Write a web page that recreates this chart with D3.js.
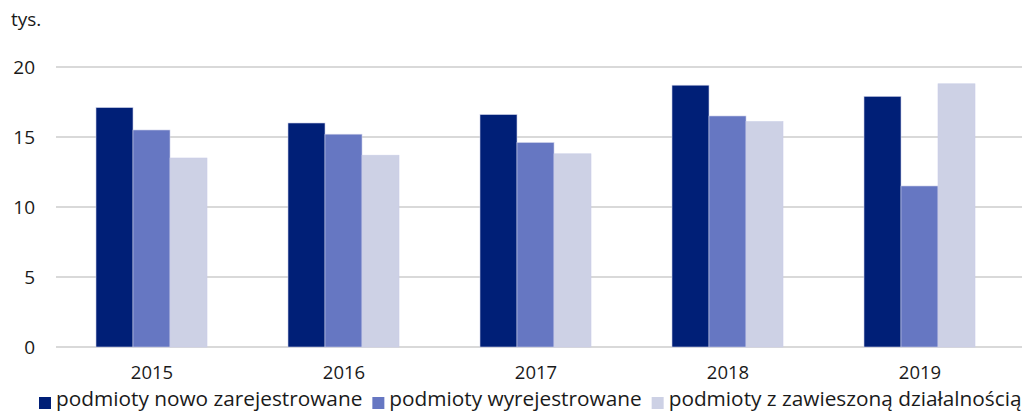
<!DOCTYPE html>
<html>
<head>
<meta charset="utf-8">
<script src="https://cdn.jsdelivr.net/npm/d3@7"></script>
<style>
  body { margin: 0; background: #fff; }
  svg text { font-family: "Open Sans", "DejaVu Sans", sans-serif; fill: #1a1a1a; }
</style>
</head>
<body>
<svg id="chart" width="1022" height="412"></svg>
<script>
// Data
var years = ["2015", "2016", "2017", "2018", "2019"];
var seriesNames = ["podmioty nowo zarejestrowane", "podmioty wyrejestrowane", "podmioty z zawieszoną działalnością"];
var nowo = [17.1, 16.0, 16.6, 18.7, 17.9];
var wyrej = [15.5, 15.2, 14.6, 16.5, 11.5];
var zawiesz = [13.5, 13.7, 13.8, 16.1, 18.8];
var colors = ["#001f77", "#6677c2", "#cdd1e5"];
var yTicks = [0, 5, 10, 15, 20];

var series = [nowo, wyrej, zawiesz];

const svg = d3.select("#chart");
const margin = { top: 67, left: 56, right: 6, bottom: 65 };
const width = 1022 - margin.left - margin.right;
const height = 412 - margin.top - margin.bottom;

const x = d3.scaleBand().domain(years).range([0, width]).paddingInner(0).paddingOuter(0);
const xInner = d3.scaleBand().domain(d3.range(series.length)).range([x.bandwidth() / 2 - 56, x.bandwidth() / 2 + 55]);
const y = d3.scaleLinear().domain([0, 20]).range([height, 0]);

const g = svg.append("g").attr("transform", `translate(${margin.left},${margin.top})`);

// gridlines
g.selectAll("line.grid")
  .data(yTicks)
  .enter()
  .append("line")
  .attr("x1", 0)
  .attr("x2", 1022 - margin.left)
  .attr("y1", d => y(d))
  .attr("y2", d => y(d))
  .attr("stroke", "#d9d9d9")
  .attr("stroke-width", 2);

// y labels
g.selectAll("text.ytick")
  .data(yTicks)
  .enter()
  .append("text")
  .attr("x", -21)
  .attr("y", d => y(d) + 7)
  .attr("text-anchor", "end")
  .style("font-size", "19px")
  .text(d => d);

svg.append("text")
  .attr("x", 11)
  .attr("y", 26)
  .style("font-size", "19px")
  .text("tys.");

// bars
series.forEach(function(values, si) {
  g.selectAll("rect.s" + si)
    .data(values)
    .enter()
    .append("rect")
    .attr("x", (d, i) => x(years[i]) + xInner(si))
    .attr("width", xInner.bandwidth())
    .attr("y", d => y(d))
    .attr("height", d => y(0) - y(d))
    .attr("fill", colors[si])
    .attr("stroke", "#c9cde6")
    .attr("stroke-width", 0.6);
});

// x labels
g.selectAll("text.xtick")
  .data(years)
  .enter()
  .append("text")
  .attr("x", d => x(d) + x.bandwidth() / 2)
  .attr("y", height + 32)
  .attr("text-anchor", "middle")
  .style("font-size", "18.5px")
  .text(d => d);

// legend
var lx = 39;
seriesNames.forEach(function(name, i) {
  svg.append("rect")
    .attr("x", lx)
    .attr("y", 397)
    .attr("width", 12)
    .attr("height", 12)
    .attr("fill", colors[i]);
  var t = svg.append("text")
    .attr("x", lx + 17)
    .attr("y", 406)
    .style("font-size", "20.8px")
    .text(name);
  lx = lx + 17 + t.node().getComputedTextLength() + 10;
});
</script>
</body>
</html>
